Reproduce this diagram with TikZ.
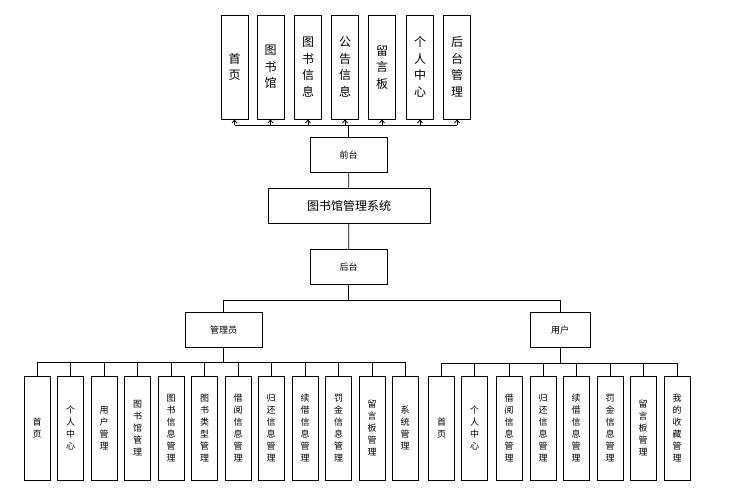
\documentclass[tikz,border=0pt]{standalone}
\usepackage{fontspec}
\newfontfamily\cjk{Noto Sans CJK SC}
\usetikzlibrary{arrows.meta}
\begin{document}
\begin{tikzpicture}[x=1pt,y=-1pt,
  box/.style={draw,line width=0.8pt,fill=white,inner sep=0pt,font=\cjk\fontsize{9}{12}\selectfont,align=center},
  topbox/.style={box,minimum width=27pt,minimum height=104pt,font=\cjk\fontsize{12}{16.5}\selectfont},
  botbox/.style={box,minimum width=26pt,minimum height=104pt},
  hbox/.style={box,minimum height=35pt},
  ln/.style={line width=0.8pt},
  arr/.style={ln,-{Straight Barb[length=3pt,width=5pt]}}]
\useasboundingbox (0,0) rectangle (734,488);
% top boxes
\node[topbox] (t1) at (234.5,67) {首\\页};
\node[topbox] (t2) at (270.5,67) {图\\书\\馆};
\node[topbox] (t3) at (308,67) {图\\书\\信\\息};
\node[topbox] (t4) at (345,67) {公\\告\\信\\息};
\node[topbox] (t5) at (382,67) {留\\言\\板};
\node[topbox] (t6) at (420,67) {个\\人\\中\\心};
\node[topbox] (t7) at (457,67) {后\\台\\管\\理};
\node[hbox,minimum width=77pt] (qt) at (348.5,155) {前台};
\node[hbox,minimum width=162pt,font=\cjk\fontsize{12}{16}\selectfont] (sys) at (349,205.5) {图书馆管理系统};
\node[hbox,minimum width=77pt] (ht) at (348.5,267) {后台};
\node[hbox,minimum width=77pt] (gly) at (223.5,330) {管理员};
\node[hbox,minimum width=60pt] (yh) at (560,330) {用户};
% connectors top
\coordinate (tb) at (348.5,125);
\draw[ln] (qt.north) -- (tb);
\draw[ln] (t1.south |- tb) -- (t7.south |- tb);
\foreach \n in {t1,t2,t3,t4,t5,t6,t7} \draw[arr] (\n.south |- tb) -- (\n.south);
\draw[ln] (qt) -- (sys);
\draw[ln] (sys) -- (ht);
\coordinate (mb) at (348.5,300);
\draw[ln] (ht.south) -- (mb);
\draw[ln] (gly.north |- mb) -- (yh.north |- mb);
\draw[ln] (gly.north |- mb) -- (gly.north);
\draw[ln] (yh.north |- mb) -- (yh.north);
% left children
\node[botbox] (a1) at (37,428) {首\\页};
\node[botbox] (a2) at (70.5,428) {个\\人\\中\\心};
\node[botbox] (a3) at (104,428) {用\\户\\管\\理};
\node[botbox] (a4) at (137.5,428) {图\\书\\馆\\管\\理};
\node[botbox] (a5) at (171,428) {图\\书\\信\\息\\管\\理};
\node[botbox] (a6) at (204.5,428) {图\\书\\类\\型\\管\\理};
\node[botbox] (a7) at (238,428) {借\\阅\\信\\息\\管\\理};
\node[botbox] (a8) at (271,428) {归\\还\\信\\息\\管\\理};
\node[botbox] (a9) at (305,428) {续\\借\\信\\息\\管\\理};
\node[botbox] (a10) at (338.5,428) {罚\\金\\信\\息\\管\\理};
\node[botbox] (a11) at (372,428) {留\\言\\板\\管\\理};
\node[botbox] (a12) at (405,428) {系\\统\\管\\理};
\coordinate (lb) at (223.5,362);
\draw[ln] (gly.south) -- (lb);
\draw[ln] (a1.north |- lb) -- (a12.north |- lb);
\foreach \n in {a1,a2,a3,a4,a5,a6,a7,a8,a9,a10,a11,a12} \draw[ln] (\n.north |- lb) -- (\n.north);
% right children
\node[botbox] (b1) at (441.5,428) {首\\页};
\node[botbox] (b2) at (474.5,428) {个\\人\\中\\心};
\node[botbox] (b3) at (509,428) {借\\阅\\信\\息\\管\\理};
\node[botbox] (b4) at (543,428) {归\\还\\信\\息\\管\\理};
\node[botbox] (b5) at (576,428) {续\\借\\信\\息\\管\\理};
\node[botbox] (b6) at (610,428) {罚\\金\\信\\息\\管\\理};
\node[botbox] (b7) at (643,428) {留\\言\\板\\管\\理};
\node[botbox] (b8) at (677,428) {我\\的\\收\\藏\\管\\理};
\coordinate (rb) at (560,363);
\draw[ln] (yh.south) -- (rb);
\draw[ln] (b1.north |- rb) -- (b8.north |- rb);
\foreach \n in {b1,b2,b3,b4,b5,b6,b7,b8} \draw[ln] (\n.north |- rb) -- (\n.north);
\end{tikzpicture}
\end{document}
